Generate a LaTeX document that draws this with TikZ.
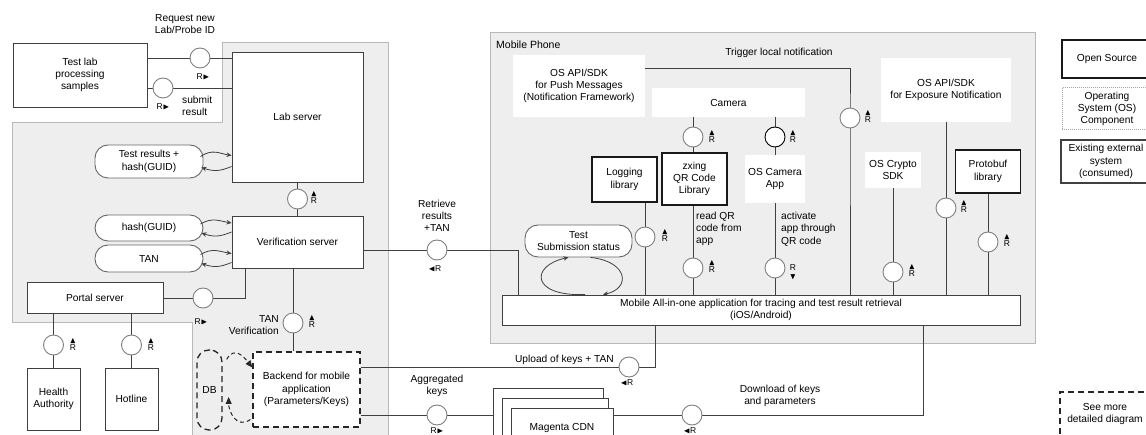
\documentclass[tikz,border=0pt]{standalone}
\usepackage{fontspec}
\setmainfont{Liberation Sans}
\usepackage{amssymb}
\usetikzlibrary{arrows.meta,calc}
\pgfdeclarelayer{bg}
\pgfdeclarelayer{lines}
\pgfsetlayers{bg,lines,main}
\begin{document}
\begin{tikzpicture}[x=1pt,y=-1pt,
  every node/.style={font=\fontsize{10.2}{12.3}\selectfont, inner sep=1pt, align=center},
  region/.style={fill=gray!13, draw=gray!55, line width=0.9pt},
  srv/.style={draw=black!75, fill=white, line width=0.9pt},
  oss/.style={draw=black!90, fill=white, line width=1.5pt},
  osc/.style={fill=white, draw=none},
  pill/.style={rounded corners=13pt, draw=black!60, fill=white, line width=0.9pt},
  dbox/.style={draw=black!85, line width=1.3pt, dash pattern=on 6pt off 4pt},
  ifc/.style={circle, draw=black!50, fill=white, line width=0.9pt, minimum size=20pt, inner sep=0pt},
  rl/.style={font=\fontsize{8.5}{7}\selectfont, inner sep=0pt},
  conn/.style={draw=black!75, line width=0.8pt},
  arr/.style={conn, -{Stealth[length=5pt,width=4.5pt]}},
  darr/.style={draw=black!85, line width=1pt, dash pattern=on 4pt off 3pt, -{Triangle[length=7pt,width=6pt]}},
  txt/.style={inner sep=0pt}
]
\useasboundingbox (0,0) rectangle (1146,435);

\begin{pgfonlayer}{bg}
\fill[white] (0,0) rectangle (1146,435);
\draw[region] (222,42) -- (388,42) -- (388,440) -- (192,440) -- (192,322) -- (12,322) -- (12,122) -- (222,122) -- cycle;
\draw[region] (490,32) rectangle (1035,343);
\end{pgfonlayer}

% ---------- left side ----------
\node[srv, minimum width=134pt, minimum height=64pt] (testlab) at (80,75) {Test lab\\processing\\samples};
\node[srv, minimum width=131pt, minimum height=130pt] (lab) at (297.5,117) {Lab server};
\node[srv, minimum width=131pt, minimum height=52pt] (ver) at (297.5,242) {Verification server};
\node[srv, minimum width=136pt, minimum height=31pt] (portal) at (95,297.5) {Portal server};
\node[srv, minimum width=53pt, minimum height=62pt] (ha) at (53.5,399) {Health\\Authority};
\node[srv, minimum width=53pt, minimum height=62pt] (hot) at (131.5,399) {Hotline};
\node[dbox, rounded corners=12pt, minimum width=25pt, minimum height=80pt] (db) at (209.5,390) {DB};
\node[dbox, fill=white, minimum width=107pt, minimum height=75pt] (backend) at (306.5,389.5) {Backend for mobile\\application\\(Parameters/Keys)};

\node[pill, minimum width=108pt, minimum height=33pt] (tr) at (149,161.5) {Test results +\\hash(GUID)};
\node[pill, minimum width=108pt, minimum height=26pt] (hg) at (149,228) {hash(GUID)};
\node[pill, minimum width=108pt, minimum height=27pt] (tan) at (149,258.5) {TAN};

\node[srv, minimum width=110pt, minimum height=60pt] (cdn3) at (548,418) {};
\node[srv, minimum width=106pt, minimum height=50pt] (cdn2) at (555,423) {};
\node[srv, minimum width=102pt, minimum height=40pt] (cdn1) at (562,428) {Magenta CDN};

% interface circles (left)
\node[ifc] (creq) at (200,58) {};
\node[ifc] (csub) at (163,88) {};
\node[ifc] (clv) at (297.5,199) {};
\node[ifc] (cret) at (437,250) {};
\node[ifc] (cpv) at (203,298) {};
\node[ifc] (cha) at (53.5,345) {};
\node[ifc] (chot) at (131.5,345) {};
\node[ifc] (ctanv) at (293,323) {};
\node[ifc] (cagg) at (437,415) {};
\node[ifc] (cupl) at (629,367) {};
\node[ifc] (cdl) at (692,415) {};

\coordinate (kret) at (518,250);
\coordinate (kpv) at (245,298);
\coordinate (kup) at (655,367);
\coordinate (kdl) at (923,415);

% ---------- mobile phone ----------
\node[txt, anchor=west, font=\fontsize{10.5}{12}\selectfont] (mp) at (496,45) {Mobile Phone};
\node[osc, minimum width=132pt, minimum height=62pt] (push) at (579,86) {OS API/SDK\\for Push Messages\\(Notification Framework)};
\node[osc, minimum width=153pt, minimum height=29pt] (camera) at (728.5,102.5) {Camera};
\node[oss, minimum width=65pt, minimum height=45pt] (logging) at (624.5,179.5) {Logging\\library};
\node[oss, minimum width=65pt, minimum height=52pt] (zxing) at (694.5,179) {zxing\\QR Code\\Library};
\node[osc, minimum width=60pt, minimum height=48pt] (camapp) at (775,179) {OS Camera\\App};
\node[osc, minimum width=56pt, minimum height=36pt] (crypto) at (893,170) {OS Crypto\\SDK};
\node[oss, minimum width=65pt, minimum height=43pt] (proto) at (988,171.5) {Protobuf\\library};
\node[osc, minimum width=130pt, minimum height=64pt] (expo) at (946,90) {OS API/SDK\\for Exposure Notification};
\node[srv, minimum width=518pt, minimum height=30pt] (app) at (761,310) {Mobile All-in-one application for tracing and test result retrieval\\(iOS/Android)};
\node[pill, minimum width=107pt, minimum height=32pt] (ts) at (578.5,241) {Test\\Submission status};

\node[ifc] (ctrig) at (850,118) {};
\node[ifc] (ccam1) at (693,137) {};
\node[ifc, draw=black] (ccam2) at (775,137) {};
\node[ifc] (clog) at (645,237) {};
\node[ifc] (czx) at (693,268) {};
\node[ifc] (cca) at (775,268) {};
\node[ifc] (ccr) at (893,272) {};
\node[ifc] (cpb) at (988,242) {};
\node[ifc] (cex) at (946,208) {};

% ---------- R labels ----------
\node[rl] (lreq) at (203,77) {R$\blacktriangleright$};
\node[rl] (lsub) at (163,107) {R$\blacktriangleright$};
\node[rl] (llv) at (314,198) {$\blacktriangle$\\R};
\node[rl] (lret) at (435,269) {$\blacktriangleleft$R};
\node[rl] (lpv) at (201,322) {R$\blacktriangleright$};
\node[rl] (lha) at (73,345) {$\blacktriangle$\\R};
\node[rl] (lhot) at (151,345) {$\blacktriangle$\\R};
\node[rl] (ltanv) at (312,322) {$\blacktriangle$\\R};
\node[rl] (lagg) at (437,431) {R$\blacktriangleright$};
\node[rl] (lupl) at (627,383) {$\blacktriangleleft$R};
\node[rl] (ldl) at (690,431) {$\blacktriangleleft$R};
\node[rl] (ltrig) at (868,117) {$\blacktriangle$\\R};
\node[rl] (lcam1) at (712,137) {$\blacktriangle$\\R};
\node[rl] (lcam2) at (793,137) {$\blacktriangle$\\R};
\node[rl] (llog) at (665,236) {$\blacktriangle$\\R};
\node[rl] (lzx) at (712,267) {$\blacktriangle$\\R};
\node[rl, font=\fontsize{8.5}{9}\selectfont] (lca) at (793,272) {R\\$\blacktriangledown$};
\node[rl] (lcr) at (912,271) {$\blacktriangle$\\R};
\node[rl] (lpb) at (1007,241) {$\blacktriangle$\\R};
\node[rl] (lex) at (964,207) {$\blacktriangle$\\R};

% ---------- connector texts ----------
\node[txt] (treq) at (185,24) {Request new\\Lab/Probe ID};
\node[txt, align=left, anchor=west] (tsub) at (182,106) {submit\\result};
\node[txt] (tret) at (437,216) {Retrieve\\results\\+TAN};
\node[txt, align=right, anchor=east] (ttanv) at (279,325) {TAN\\Verification};
\node[txt] (ttrig) at (779,53) {Trigger local notification};
\node[txt, align=left, anchor=west] (tread) at (696,229) {read QR\\code from\\app};
\node[txt, align=left, anchor=west] (tact) at (781,229) {activate\\app through\\QR code};
\node[txt, anchor=east] (tupl) at (614,360) {Upload of keys + TAN};
\node[txt] (tagg) at (437,386) {Aggregated\\keys};
\node[txt] (tdl) at (780,396) {Download of keys\\and parameters};

% ---------- legend ----------
\node[oss, minimum width=90pt, minimum height=38pt] (lgos) at (1107,59) {Open Source};
\node[draw=gray!70, densely dotted, line width=1pt, fill=white, minimum width=90pt, minimum height=42pt] (lgosc) at (1107,109) {Operating\\System (OS)\\Component};
\node[srv, line width=1.2pt, minimum width=90pt, minimum height=43pt] (lgext) at (1106,161.5) {Existing external\\system\\(consumed)};
\node[dbox, minimum width=90pt, minimum height=44pt] (lgmore) at (1105,414) {See more\\detailed diagram};

% ---------- connectors ----------
\begin{pgfonlayer}{lines}
\draw[conn] (testlab.east |- creq) -- (creq) -- (lab.west |- creq);
\draw[conn] (testlab.east |- csub) -- (csub) -- (lab.west |- csub);
\draw[conn] (lab.south -| clv) -- (clv) -- (ver.north -| clv);
\draw[conn] (ver.east |- cret) -- (cret) -- (kret) -- (app.north -| kret);
\draw[conn] (portal.east |- cpv) -- (cpv) -- (kpv) -- (ver.south -| kpv);
\draw[conn] (portal.south -| cha) -- (cha) -- (ha.north -| cha);
\draw[conn] (portal.south -| chot) -- (chot) -- (hot.north -| chot);
\draw[conn] (ver.south -| ctanv) -- (ctanv) -- (backend.north -| ctanv);
\draw[conn] (app.south -| kup) -- (kup) -- (cupl) -- (backend.east |- cupl);
\draw[conn] (backend.east |- cagg) -- (cagg) -- (cdn3.west |- cagg);
\draw[conn] (app.south -| kdl) -- (kdl) -- (cdl) -- (cdn1.east |- cdl);
\draw[conn] ($(push.east)+(0,-18)$) -| (ctrig.center) -- (app.north -| ctrig);
\draw[conn] (camera.south -| ccam1) -- (ccam1) -- (zxing.north -| ccam1);
\draw[conn] (camera.south -| ccam2) -- (ccam2) -- (camapp.north -| ccam2);
\draw[conn] (logging.south -| clog) -- (clog) -- (app.north -| clog);
\draw[conn] (zxing.south -| czx) -- (czx) -- (app.north -| czx);
\draw[conn] (camapp.south -| cca) -- (cca) -- (app.north -| cca);
\draw[conn] (crypto.south -| ccr) -- (ccr) -- (app.north -| ccr);
\draw[conn] (proto.south -| cpb) -- (cpb) -- (app.north -| cpb);
\draw[conn] (expo.south -| cex) -- (cex) -- (app.north -| cex);
\end{pgfonlayer}

% data flows (little loops)
\draw[arr] ($(tr.east)+(-3,-5)$) .. controls +(12,-8) and +(-12,-2) .. ($(lab.west |- tr.east)+(0,-6)$);
\draw[arr] ($(lab.west |- tr.east)+(0,5)$) .. controls +(-12,5) and +(12,4) .. ($(tr.east)+(-2,6)$);
\draw[arr] ($(hg.east)+(-3,-4)$) .. controls +(12,-7) and +(-12,-2) .. ($(ver.west |- hg.east)+(0,-5)$);
\draw[arr] ($(ver.west |- hg.east)+(0,4)$) .. controls +(-12,5) and +(12,4) .. ($(hg.east)+(-2,5)$);
\draw[arr] ($(tan.east)+(-3,-4)$) .. controls +(12,-7) and +(-12,-2) .. ($(ver.west |- tan.east)+(0,-5)$);
\draw[arr] ($(ver.west |- tan.east)+(0,4)$) .. controls +(-12,5) and +(12,4) .. ($(tan.east)+(-2,5)$);
\draw[arr] ($(app.north)+(-176,0)$) .. controls +(-55,2) and +(-38,8) .. ($(ts.south)+(-10,0)$);
\draw[arr] ($(ts.south)+(12,0)$) .. controls +(38,4) and +(28,-6) .. ($(app.north)+(-158,0)$);
\draw[darr] ($(db.north east)+(4,10)$) .. controls +(8,-14) and +(-8,-10) .. ($(backend.west)+(0,-22)$);
\draw[darr] ($(backend.west)+(-2,30)$) .. controls +(-14,10) and +(0,14) .. ($(db.east)+(6,7)$);
\end{tikzpicture}
\end{document}
